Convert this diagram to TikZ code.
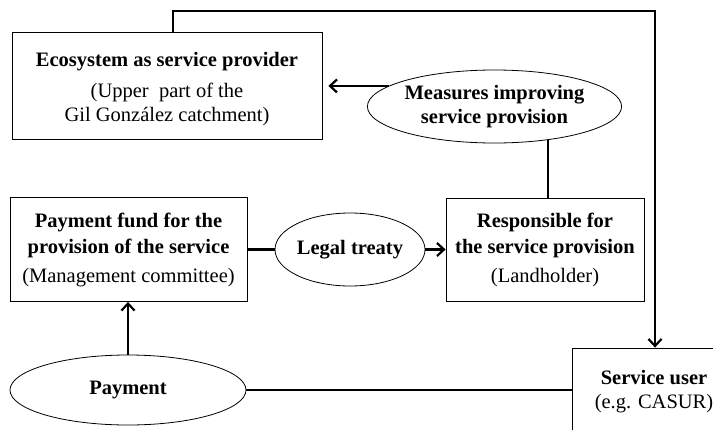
\documentclass[tikz,border=0pt]{standalone}
\usepackage{fontspec}
\setmainfont{Liberation Serif}
\usetikzlibrary{shapes.geometric,arrows.meta,calc}
\begin{document}
\begin{tikzpicture}[x=1pt,y=-1pt,
  box/.style={draw, line width=0.8pt, inner sep=0pt, align=center},
  oval/.style={draw, ellipse, line width=0.8pt, inner sep=0pt, align=center},
  txt/.style={inner sep=0pt, align=center},
  conn/.style={line width=2.6pt},
  arr/.style={conn, -{Straight Barb[length=7pt,width=13pt,line width=2.2pt]}},
  font=\fontsize{20.5}{24}\selectfont]
\useasboundingbox (0,0) rectangle (713,429);

% boxes
\node[box, minimum width=310pt, minimum height=107pt] (eco) at (167,85.5) {};
\node[txt] (ecot) at (167,89) {\textbf{Ecosystem as service provider}\\[7pt](Upper\ \ part of the\\Gil González catchment)};

\node[box, minimum width=237pt, minimum height=104pt] (fund) at (128.5,249.5)
  {\textbf{Payment fund for the}\\[2pt]\textbf{provision of the service}\\[5pt](Management committee)};

\node[box, minimum width=198pt, minimum height=103pt] (resp) at (545,249.5)
  {\textbf{Responsible for}\\[2pt]\textbf{the service provision}\\[5pt](Landholder)};

\node[box, minimum width=164pt, minimum height=88pt] (user) at (654,392)
  {\textbf{Service user}\\(e.g. CASUR)};

% ellipses
\node[oval, minimum width=235pt, minimum height=73pt] (meas) at (494.5,106.5)
  {\textbf{Measures improving}\\\textbf{service provision}};
\node[oval, minimum width=126pt, minimum height=73pt] (legal) at (350,249.5)
  {\textbf{Legal treaty}};
\node[oval, minimum width=236pt, minimum height=70pt] (pay) at (128,390)
  {\textbf{Payment}};

% connectors
\coordinate (tr) at (655,11);
\draw[arr] ($(eco.north)+(6,0)$) |- (tr) -- (tr |- user.north);
\draw[arr, shorten >=6pt] (meas.169) -- (eco.east |- meas.169);
\draw[conn] (meas.-32.5) -- (meas.-32.5 |- resp.north);
\draw[conn] (fund.east) -- (legal.west);
\draw[arr] (legal.east) -- (resp.west);
\draw[arr] (pay.north) -- (pay.north |- fund.south);
\draw[conn] (pay.east) -- (pay.east -| user.west);
\end{tikzpicture}
\end{document}
